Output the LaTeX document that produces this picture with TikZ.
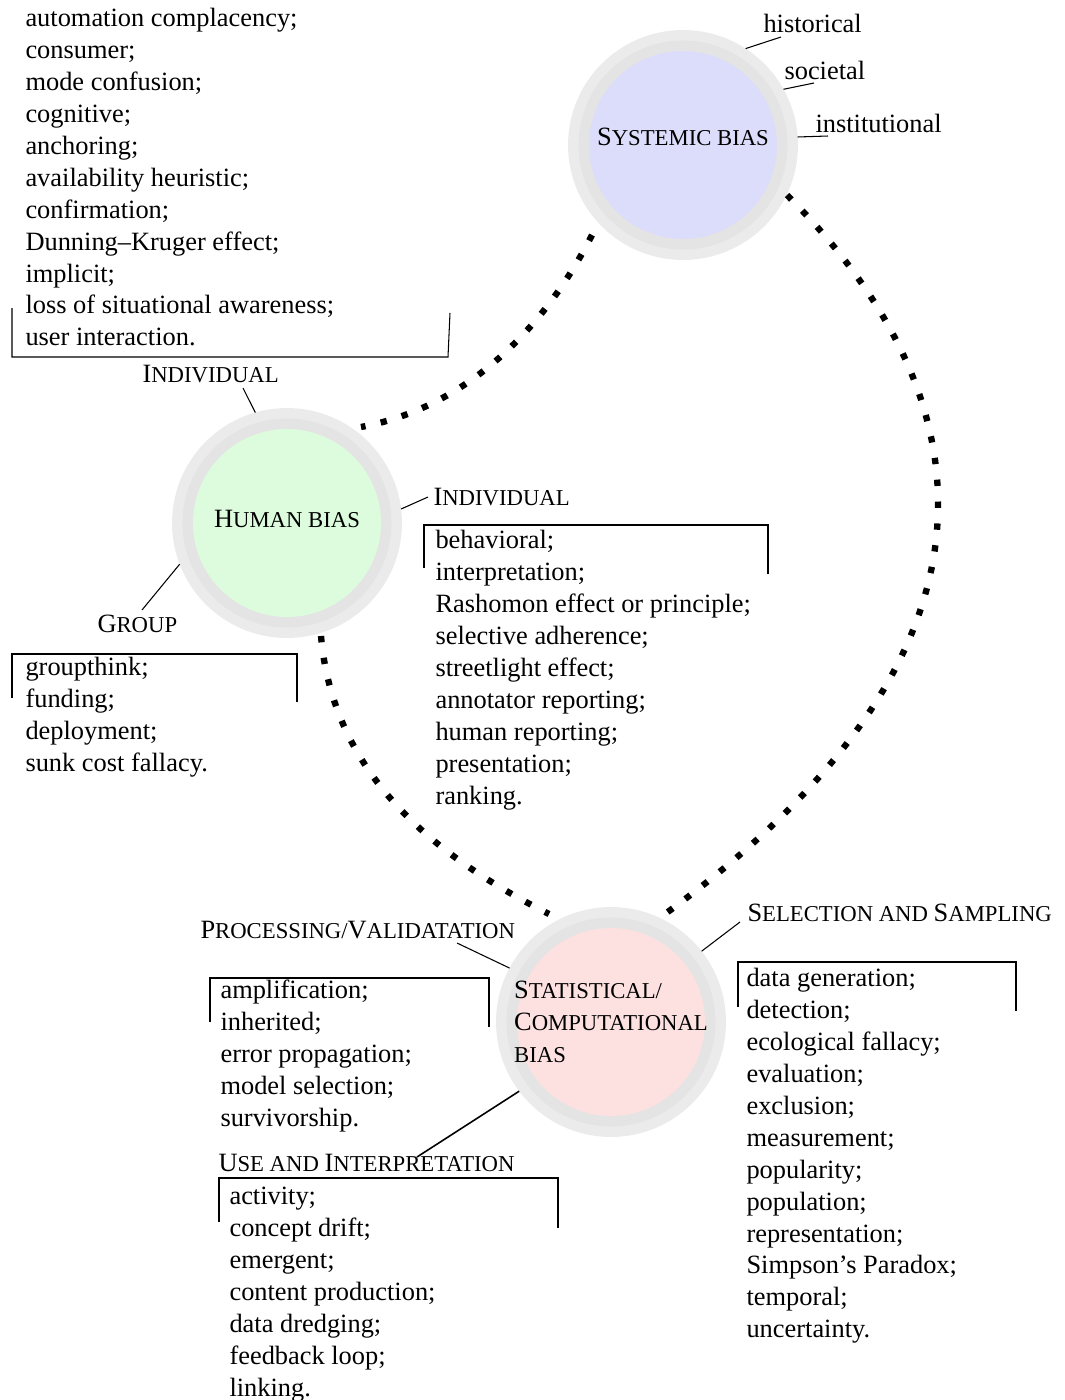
\documentclass[tikz,border=0pt]{standalone}
\usepackage{fontspec}
\setmainfont{Liberation Serif}
\usetikzlibrary{calc}
\newcommand{\lsc}[1]{{\fontsize{8.6pt}{10pt}\selectfont\MakeUppercase{#1}}}
\definecolor{ringout}{HTML}{EBEBEB}
\definecolor{ringin}{HTML}{E4E4E4}
\definecolor{sysfill}{HTML}{DCDCFB}
\definecolor{humfill}{HTML}{DDFCDD}
\definecolor{statfill}{HTML}{FDE0E0}
\tikzset{
  bias/.style={circle,minimum size=87.1pt,inner sep=0pt,outer sep=0pt,fill=ringout,
    font=\fontsize{10}{12.1}\selectfont,
    path picture={\fill[ringin] (path picture bounding box.center) circle (39.6pt);
                  \fill[#1] (path picture bounding box.center) circle (35.6pt);}},
  lbl/.style={inner sep=0pt,anchor=base west,font=\fontsize{10}{12.1}\selectfont},
  lst/.style={inner sep=0pt,anchor=north west,align=left,font=\fontsize{10}{12.1}\selectfont},
  dotline/.style={line width=2.4pt,dash pattern=on 2.4pt off 5.9pt}
}
\begin{document}
\begin{tikzpicture}[x=0.3788pt,y=0.3788pt]
\useasboundingbox (0,0) rectangle (1065,-1400);
% the three kinds of bias
\node[bias=sysfill,text depth=6pt]   (sys)  at (683,-145)  {S\lsc{ystemic bias}};
\node[bias=humfill,text depth=3.2pt] (hum)  at (287,-523)  {H\lsc{uman bias}};
\node[bias=statfill,align=left] (stat) at (611,-1022)
  {S\lsc{tatistical/}\\C\lsc{omputational}\\\lsc{bias}};
% dotted links
\draw[dotline] ($(sys)+(-91,-90)$) .. controls +(-38,-75) and +(119,22) .. ($(hum)+(74,96)$);
\draw[dotline] ($(sys)+(104,-50)$) .. controls +(177,-177) and +(388,283) .. ($(stat)+(54,108)$);
\draw[dotline] ($(hum)+(34,-113)$) .. controls +(12,-137) and +(-117,59) .. ($(stat)+(-62,108)$);
% labels
\node[lbl] (hist) at (763,-32)   {historical};
\node[lbl] (soc)  at (784,-79)   {societal};
\node[lbl] (inst) at (815,-132)  {institutional};
\node[lbl] (indA) at (142,-382)  {I\lsc{ndividual}};
\node[lbl] (indB) at (433,-505)  {I\lsc{ndividual}};
\node[lbl] (grp)  at (97,-632)   {G\lsc{roup}};
\node[lbl] (proc) at (200,-938)  {P\lsc{rocessing/}V\lsc{alidatation}};
\node[lbl] (sel)  at (747,-921)  {S\lsc{election and }S\lsc{ampling}};
\node[lbl] (use)  at (218,-1171) {U\lsc{se and }I\lsc{nterpretation}};
\coordinate (histE) at (781,-37);
\coordinate (socE)  at (814,-83);
\coordinate (instE) at (828,-136);
\coordinate (indAE) at (243,-388);
\coordinate (indBE) at (428,-497);
\coordinate (grpE)  at (142,-610);
\coordinate (procE) at (457,-943);
\coordinate (selE)  at (740,-922);
\coordinate (useE)  at (417,-1157);
\draw (sys.57) -- (histE);
\draw (sys.29) -- (socE);
\draw (sys.4) -- (instE);
\draw (hum.106) -- (indAE);
\draw (hum.7) -- (indBE);
\draw (hum.-159) -- (grpE);
\draw (stat.152) -- (procE);
\draw (stat.38) -- (selE);
\draw[semithick] (stat.-143) -- (useE);
% lists
\node[lst] (lstA) at (25,-3.6) {\strut automation complacency;\\consumer;\\mode confusion;\\cognitive;\\anchoring;\\availability heuristic;\\confirmation;\\Dunning--Kruger effect;\\implicit;\\loss of situational awareness;\\user interaction.};
\node[lst] (lstB) at (435,-525.6) {\strut behavioral;\\interpretation;\\Rashomon effect or principle;\\selective adherence;\\streetlight effect;\\annotator reporting;\\human reporting;\\presentation;\\ranking.};
\node[lst] (lstC) at (25,-652.6) {\strut groupthink;\\funding;\\deployment;\\sunk cost fallacy.};
\node[lst] (lstD) at (220,-975.6) {\strut amplification;\\inherited;\\error propagation;\\model selection;\\survivorship.};
\node[lst] (lstE) at (229,-1181.6) {\strut activity;\\concept drift;\\emergent;\\content production;\\data dredging;\\feedback loop;\\linking.};
\node[lst] (lstF) at (746,-963.6) {\strut data generation;\\detection;\\ecological fallacy;\\evaluation;\\exclusion;\\measurement;\\popularity;\\population;\\representation;\\Simpson's Paradox;\\temporal;\\uncertainty.};
% brackets
\draw (450,-313) -- (448,-357) -- (12,-357) -- (12,-308);
\draw (424,-568) -- (424,-525) -- (768,-525) -- (768,-574);
\draw (12,-698) -- (12,-654) -- (297,-654) -- (297,-702);
\draw (210,-1022) -- (210,-978) -- (489,-978) -- (489,-1027);
\draw (219,-1222) -- (219,-1178) -- (558,-1178) -- (558,-1228);
\draw (738,-1007) -- (738,-962) -- (1016,-962) -- (1016,-1011);
\end{tikzpicture}
\end{document}
